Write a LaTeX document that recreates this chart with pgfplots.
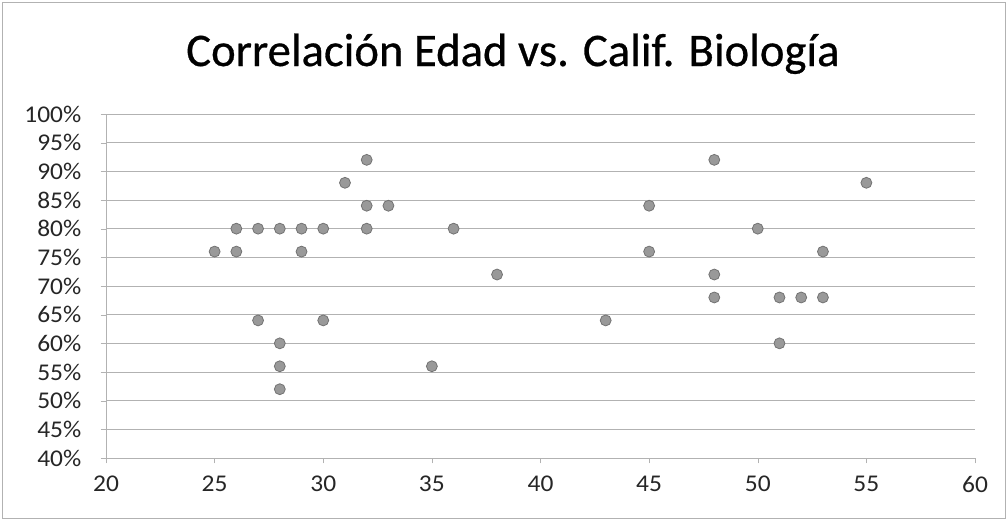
\documentclass[border=0pt]{standalone}
\usepackage{fontspec}
\setmainfont{Carlito}[FakeStretch=1.06]
\newfontfamily\titlefont{Carlito}[FakeBold=0.6]
\usepackage{pgfplots}
\pgfplotsset{compat=1.18}
\begin{document}
\begin{tikzpicture}
\begin{axis}[
  scale only axis,
  width=651.75pt, height=258pt,
  xmin=20, xmax=60, ymin=40, ymax=100,
  xtick={20,25,...,60}, ytick={40,45,...,100},
  yticklabel={\pgfmathprintnumber{\tick}\%},
  /pgf/number format/assume math mode=true,
  ymajorgrids,
  grid style={black!30, line width=0.5pt},
  axis x line*=bottom, axis y line*=left,
  axis line style={black!30, line width=0.6pt},
  tick align=outside, major tick length=4pt,
  tick style={black!30},
  ticklabel style={font=\fontsize{18}{21}\selectfont, text=black!85},
  yticklabel style={xshift=-11pt},
  xticklabel style={yshift=-6pt},
  clip=false,
]
\addplot[only marks, mark=*, mark size=4.1pt,
  mark options={fill=black!40, draw=black!55, line width=0.6pt}]
coordinates {
(25,76) (26,80) (26,76) (27,80) (27,64) (28,80) (28,60) (28,56) (28,52)
(29,80) (29,76) (30,80) (30,64) (31,88) (32,92) (32,84) (32,80) (33,84)
(35,56) (36,80) (38,72)
(43,64) (45,84) (45,76) (48,92) (48,72) (48,68) (50,80) (51,68) (51,60)
(52,68) (53,76) (53,68) (55,88)
};
\end{axis}
\node[anchor=base, font=\titlefont\fontsize{35}{40}\selectfont, inner sep=0pt]
  at ([xshift=305.25pt, yshift=36pt]current axis.north west) {Correlación Edad vs. Calif. Biología};
\draw[black!30, line width=0.8pt] ([xshift=-77.5pt,yshift=-45.25pt]current axis.south west) rectangle ([xshift=22.75pt,yshift=83.5pt]current axis.north east);
\path[use as bounding box] ([xshift=-79.5pt,yshift=-47.25pt]current axis.south west) rectangle ([xshift=24.75pt,yshift=85.5pt]current axis.north east);
\end{tikzpicture}
\end{document}
